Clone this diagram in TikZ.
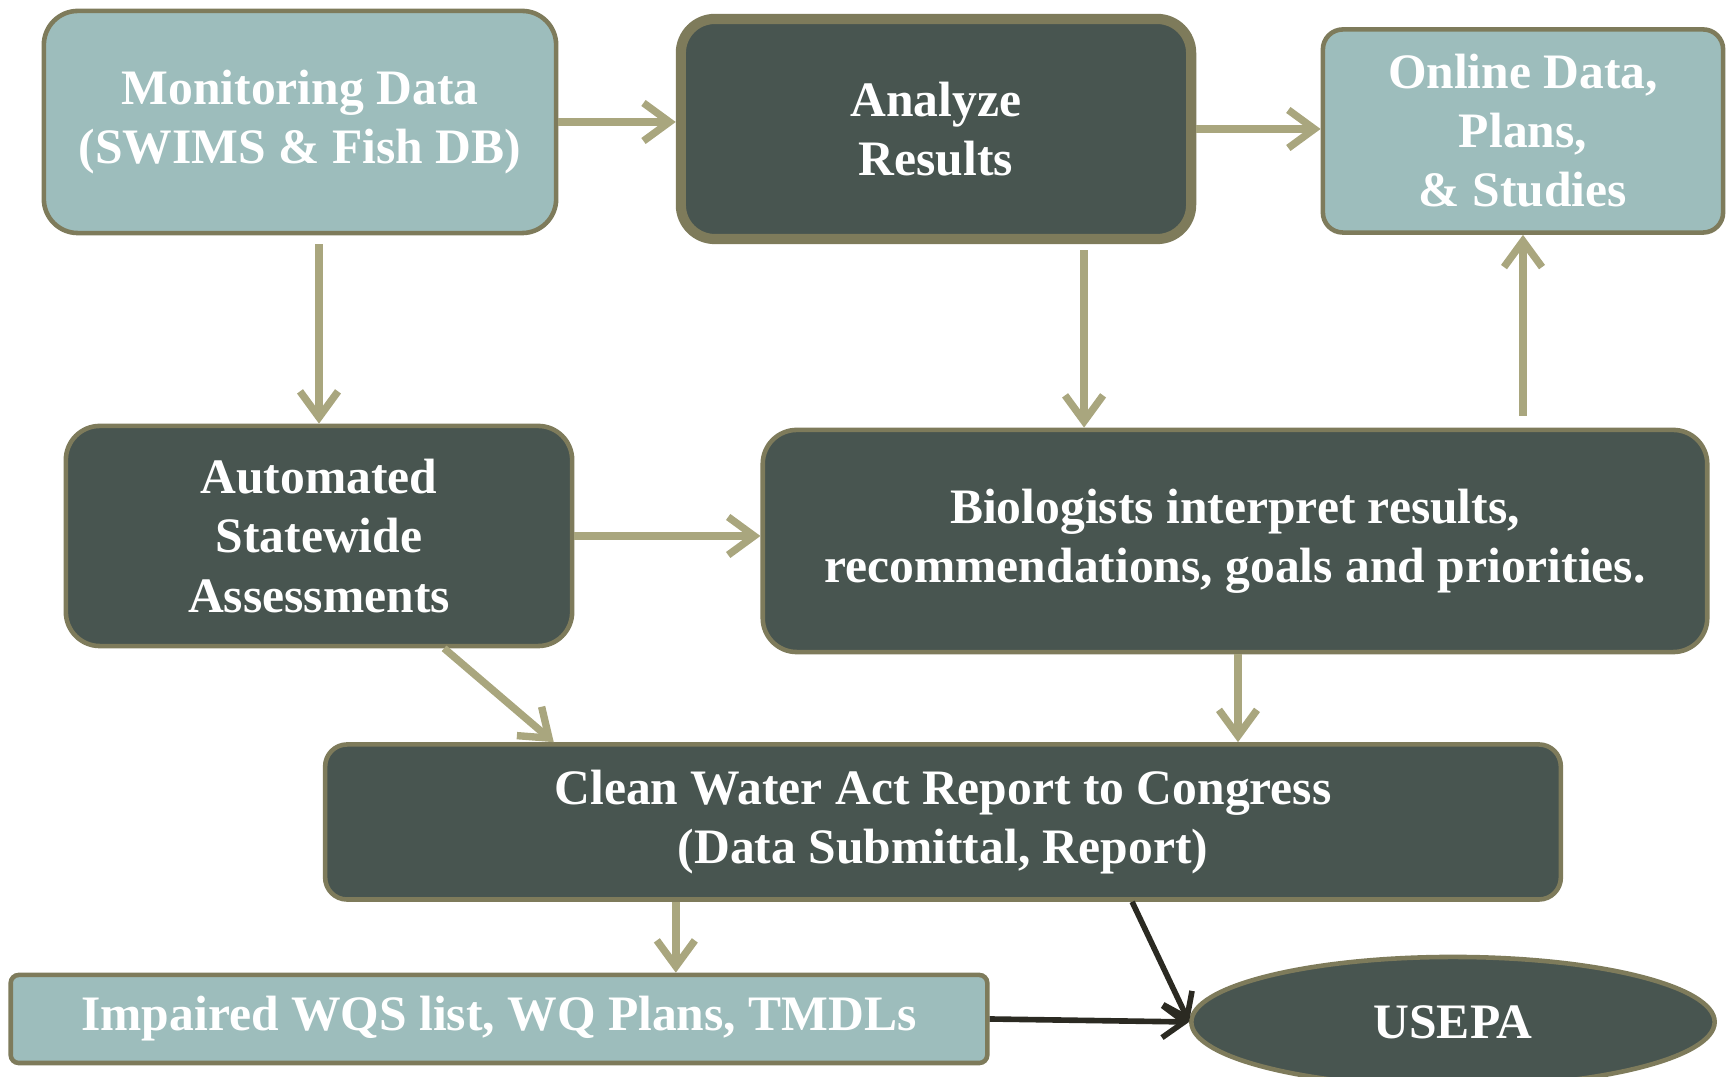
\documentclass[tikz,border=0pt]{standalone}
\usepackage{fontspec}
\setmainfont{Liberation Serif}
\usetikzlibrary{arrows.meta,shapes.geometric}

\definecolor{tealbox}{HTML}{9DBDBC}
\definecolor{darkbox}{HTML}{485550}
\definecolor{olivedge}{HTML}{7E7B5B}
\definecolor{olivearrow}{HTML}{A9A67E}
\definecolor{darkarrow}{HTML}{2B2A22}

\begin{document}
\begin{tikzpicture}[%
      x=0.01cm, y=-0.01cm,
      box/.style={draw=olivedge, line width=1.3pt, rounded corners=0.34cm,
        inner sep=0pt, align=center, text=white,
        font=\bfseries\fontsize{14.1}{16.8}\selectfont},
      lightbox/.style={box, fill=tealbox},
      darkbx/.style={box, fill=darkbox},
      arr/.style={draw=olivearrow, line width=2.1pt,
        -{Straight Barb[length=0.26cm,width=0.38cm,line width=2.1pt]}},
      blackarr/.style={draw=darkarrow, line width=1.6pt,
        -{Straight Barb[length=0.22cm,width=0.32cm,line width=1.6pt]}},
      ]
      \useasboundingbox (0,0) rectangle (1726,1077);

      % boxes
      \node [lightbox, minimum width=5.12cm, minimum height=2.22cm] (mon) at (300,122)
        {Monitoring Data\\(SWIMS \& Fish DB)};
      \node [darkbx, line width=2.9pt, minimum width=5.1cm, minimum height=2.2cm] (ana) at (936,129)
        {Analyze\\Results};
      \node [lightbox, rounded corners=0.2cm, minimum width=4.0cm, minimum height=2.03cm] (onl) at (1523,131)
        {Online Data,\\Plans,\\\& Studies};
      \node [darkbx, minimum width=5.06cm, minimum height=2.2cm] (aut) at (319,536)
        {Automated\\Statewide\\Assessments};
      \node [darkbx, minimum width=9.44cm, minimum height=2.22cm] (bio) at (1235,541)
        {Biologists interpret results,\\recommendations, goals and priorities.};
      \node [darkbx, rounded corners=0.22cm, minimum width=12.35cm, minimum height=1.55cm] (cwa) at (943,822)
        {Clean Water Act Report to Congress\\(Data Submittal, Report)};
      \node [lightbox, rounded corners=0.08cm, minimum width=9.76cm, minimum height=0.88cm] (imp) at (499,1019)
        {Impaired WQS list, WQ Plans, TMDLs};
      \node [darkbx, ellipse, minimum width=5.23cm, minimum height=1.3cm] (epa) at (1453,1022)
        {USEPA};

      % connectors
      \draw [arr] (mon.east) -- (mon.east -| ana.west);
      \draw [arr] (ana.east) -- (ana.east -| onl.west);
      \draw [arr, shorten <=0.09cm] (mon.south -| aut.north) -- (aut.north);
      \draw [arr, shorten <=0.06cm] ([xshift=1.48cm]ana.south) -- ([xshift=1.48cm]ana.south |- bio.north);
      \draw [arr, shorten <=0.12cm] (bio.north -| onl.south) -- (onl.south);
      \draw [arr] (aut.east) -- (aut.east -| bio.west);
      \draw [arr] ([xshift=1.25cm]aut.south) -- ([xshift=-3.89cm]cwa.north);
      \draw [arr] ([xshift=0.03cm]bio.south) -- ([xshift=0.03cm]bio.south |- cwa.north);
      \draw [arr] ([xshift=-2.67cm]cwa.south) -- ([xshift=-2.67cm]cwa.south |- imp.north);

      \draw [blackarr] ([xshift=1.89cm]cwa.south) -- (epa.west);
      \draw [blackarr] (imp.east) -- (epa.west);
      \end{tikzpicture}
\end{document}
